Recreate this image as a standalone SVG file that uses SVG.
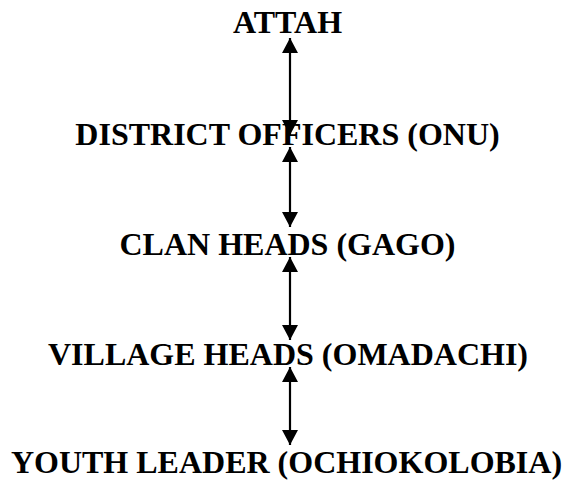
<svg xmlns="http://www.w3.org/2000/svg" width="563" height="480" viewBox="0 0 563 480">
<style>
.lbl{font-family:"Liberation Serif","Times New Roman",serif;font-weight:bold;font-size:32px;fill:#000;text-anchor:middle}
.conn{stroke:#000;stroke-width:2.2;fill:none;marker-start:url(#ah);marker-end:url(#ah)}
</style>
<defs>
<marker id="ah" markerUnits="userSpaceOnUse" markerWidth="16" markerHeight="17" refX="15" refY="8" orient="auto-start-reverse">
<path d="M0,0 L15,8 L0,16 z" fill="#000"/>
</marker>
</defs>
<g id="connectors">
<line class="conn" x1="290" y1="38" x2="290" y2="135"/>
<line class="conn" x1="290" y1="147" x2="290" y2="227"/>
<line class="conn" x1="290" y1="257" x2="290" y2="340"/>
<line class="conn" x1="290" y1="367" x2="290" y2="445"/>
</g>
<g id="attah"><text class="lbl" x="287.5" y="33">ATTAH</text></g>
<g id="district-officers"><text class="lbl" x="287.5" y="145">DISTRICT OFFICERS (ONU)</text></g>
<g id="clan-heads"><text class="lbl" x="287.5" y="255">CLAN HEADS (GAGO)</text></g>
<g id="village-heads"><text class="lbl" x="288" y="365">VILLAGE HEADS (OMADACHI)</text></g>
<g id="youth-leader"><text class="lbl" x="286.5" y="473">YOUTH LEADER (OCHIOKOLOBIA)</text></g>
</svg>
